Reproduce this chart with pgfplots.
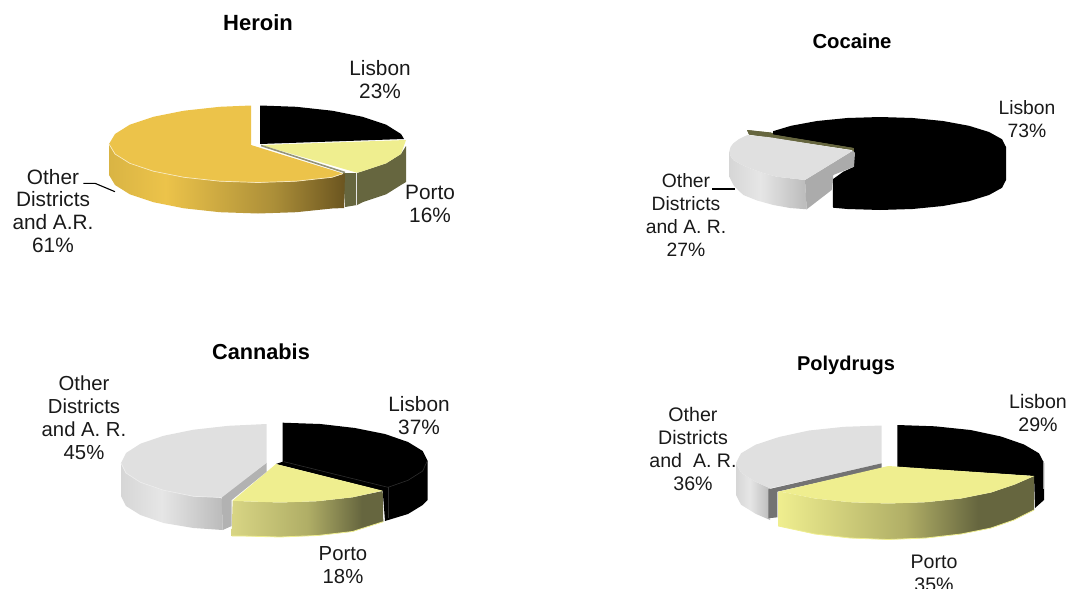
\documentclass[border=0pt]{standalone}
\usepackage{pgfplots}
\pgfplotsset{compat=1.18}
\usepackage{fontspec}
\setmainfont{Liberation Sans}
\definecolor{gold}{HTML}{ECC34A}
\definecolor{goldL}{HTML}{D9B444}
\definecolor{goldD}{HTML}{6B5520}
\definecolor{goldM}{HTML}{AB8E38}
\definecolor{pale}{HTML}{EFEE8F}
\definecolor{paleM}{HTML}{B0AE66}
\definecolor{paleL}{HTML}{D8D584}
\definecolor{olive}{HTML}{66663F}
\definecolor{gtop}{HTML}{E0E0E0}
\definecolor{gL}{HTML}{D6D6D6}
\definecolor{gM}{HTML}{E6E6E6}
\definecolor{gD}{HTML}{BBBBBB}
\pgfdeclarehorizontalshading{goldside}{100bp}{color(0bp)=(goldL); color(25bp)=(goldL); color(37bp)=(gold); color(60bp)=(goldM); color(75bp)=(goldD); color(100bp)=(goldD)}
\pgfdeclarehorizontalshading{paleside}{100bp}{color(0bp)=(paleL); color(25bp)=(paleL); color(50bp)=(paleM); color(68bp)=(olive); color(75bp)=(olive); color(100bp)=(olive)}
\pgfdeclarehorizontalshading{polyside}{100bp}{color(0bp)=(pale); color(25bp)=(pale); color(50bp)=(paleM); color(64bp)=(olive); color(75bp)=(olive); color(100bp)=(olive)}
\pgfdeclarehorizontalshading{greyside}{100bp}{color(0bp)=(gL); color(25bp)=(gL); color(45bp)=(gM); color(75bp)=(gD); color(100bp)=(gD)}
\newcommand{\lab}[5]{\node[align=center,inner sep=0pt,text=black!90,font=\fontsize{#3}{22.9}\selectfont] at (axis cs:#1,#2) {#5};}
\newcommand{\ttl}[4]{\node[inner sep=0pt,font=\bfseries\fontsize{#3}{24}\selectfont] at (axis cs:#1,#2) {#4};}
\begin{document}
\begin{tikzpicture}
\path[use as bounding box] (0,0) rectangle (1071pt,589pt);
\begin{axis}[at={(0,0)},anchor=south west,scale only axis,width=1071pt,height=589pt,
  xmin=0,xmax=1071,ymin=0,ymax=589,y dir=reverse,axis lines=none,clip=false]
% --- Heroin ---
\addplot[fill=black,draw=none] coordinates {(260,105.5)(296.3,106.8)(332,110.7)(362.6,116.8)(386.2,124.7)(401,134)(404,139)(260,144)} -- cycle;
\addplot[fill=olive,draw=none] coordinates {(357,173)(362.6,171.2)(386.2,163.3)(401,154)(406,146)(406,182)(401,185)(386.2,194.3)(362.6,202.2)(357,205)} -- cycle;
\addplot[fill=olive,draw=none] coordinates {(343,173)(357,173)(357,205)(345,207)} -- cycle;
\addplot[color=gM,line width=.7pt] coordinates {(356.5,173)(356.5,205)};
\addplot[fill=pale,draw=none] coordinates {(261,145)(406,140)(401,154)(386.2,163.3)(362.6,171.2)(357,172.7)} -- cycle;
\addplot[color=olive!70,line width=1.6pt] coordinates {(261,145.5)(345,172.5)};
\addplot[shading=goldside,draw=none] coordinates {(109,144)(115,154)(129.8,163.3)(153.4,171.2)(184,177.3)(219.7,181.2)(258,182.5)(296.3,181.2)(332,177.3)(345,173.5)(344,208)(332,208.5)(296.3,212.2)(258,213.5)(219.7,212.2)(184,208.3)(153.4,202.2)(129.8,194.3)(115,185)(109,175)} -- cycle;
\addplot[fill=gold,draw=none] coordinates {(251,105.5)(219.7,106.8)(184,110.7)(153.4,116.8)(129.8,124.7)(115,134)(109,144)(115,154)(129.8,163.3)(153.4,171.2)(184,177.3)(219.7,181.2)(258,182.5)(296.3,181.2)(332,177.3)(343,173.5)(251,145)} -- cycle;
\addplot[color=gold!35,line width=.7pt] coordinates {(109,144)(115,154)(129.8,163.3)(153.4,171.2)(184,177.3)(219.7,181.2)(258,182.5)(296.3,181.2)(332,177.3)(343,173.5)};
\addplot[color=black,line width=1.1pt] coordinates {(83.3,183.3)(95,183.3)(115,191.7)};
% --- Cocaine ---
\addplot[fill=olive,draw=none] coordinates {(747,130)(749,134.5)(852,150)(854,165)(855.5,165)(855.5,146)(773,133)} -- cycle;
\addplot[fill=black,draw=none] coordinates {(773,131.2)(791,125.8)(817,121)(847.4,118)(880,117)(912.6,118)(943,121)(969,125.8)(989,132)(1002,139.2)(1006,147)(1006,180)(1002,187.8)(989,195)(969,201.2)(943,206)(912.6,209)(880,210)(847.4,209)(833,207.7)(832.7,179.3)(843.3,171.7)(854,166.7)(854,148)(773,134.5)} -- cycle;
\addplot[fill=olive,draw=none] coordinates {(747,130)(749,134.5)(852,149.5)(853.5,148)(773,134.5)(771,132.5)} -- cycle;
\addplot[shading=greyside,draw=none] coordinates {(729.3,151.7)(730.5,156)(733.3,160)(741,164.5)(750,168.3)(763,173)(776.7,176.7)(805,180)(806.7,209.3)(790,208)(773.3,205)(757,200.5)(743.3,195)(734,186)(729.3,176.7)} -- cycle;
\addplot[fill=black!33,draw=none] coordinates {(805,180)(852.7,150.7)(855,153)(854,166.7)(833.3,175)(831.7,190)(806.7,209.3)} -- cycle;
\addplot[fill=gtop,draw=none] coordinates {(747.3,135)(770,137.3)(852.7,150.7)(805,180)(776.7,176.7)(763,173)(750,168.3)(741,164.5)(733.3,160)(730.5,156)(729.3,151.7)(730.5,147)(733.3,143.3)(739,139)} -- cycle;
\addplot[color=black,line width=1.1pt] coordinates {(712.3,189)(735,189)};
% --- Cannabis ---
\addplot[fill=black,draw=none] coordinates {(282.7,422.7)(320.3,424)(355,428)(385,434)(408,442)(422.7,451)(427.7,461)(427.7,500)(422.7,505)(408,514)(385,521)(382.7,491)(276,464)(282.7,461.7)} -- cycle;
\addplot[color=black!82,line width=.6pt] coordinates {(284,461.7)(388,487.3)(408,480.3)(422.7,471)(427.2,461)};
\addplot[color=black!82,line width=.6pt] coordinates {(388,487.3)(388,518)};
\addplot[shading=paleside,draw=none] coordinates {(232.7,500.7)(242.4,501.2)(280,502.5)(317.6,501.2)(352.5,497.3)(382.7,491)(383.3,521.7)(352.5,531.5)(317.6,535.5)(280,537)(242.4,536)(231.5,536)} -- cycle;
\addplot[color=pale,line width=.8pt] coordinates {(231.8,536)(242.4,536)(280,537)(317.6,535.5)(352.5,531.5)(383.3,521.7)};
\addplot[fill=pale,draw=none] coordinates {(276,464)(382.7,490.7)(352.5,497.3)(317.6,501.2)(280,502.5)(242.4,501.2)(232.7,500.7)} -- cycle;
\addplot[shading=greyside,draw=none] coordinates {(121,463)(126,473)(140.4,482.3)(163.5,490.2)(193.5,496.3)(221.7,497.5)(222.7,530)(193.5,528)(163.5,523)(140.4,515)(126,506)(121,496)} -- cycle;
\addplot[fill=black!30,draw=none] coordinates {(221.7,496)(266.7,462.7)(266.7,471.7)(231.7,500)(231.7,526)(222.7,530)} -- cycle;
\addplot[fill=gtop,draw=none] coordinates {(266.7,424)(228.4,425.8)(193.5,429.7)(163.5,435.8)(140.4,443.7)(126,453)(121,463)(126,473)(140.4,482.3)(163.5,490.2)(193.5,496.3)(221.7,497.5)(266.7,462.7)} -- cycle;
\addplot[color=gray!15,line width=.7pt] coordinates {(121,463)(126,473)(140.4,482.3)(163.5,490.2)(193.5,496.3)(221.7,497.5)};
% --- Polydrugs ---
\addplot[fill=black,draw=none] coordinates {(897.3,425)(935,426.3)(970.5,430)(1001,436.5)(1024,444.5)(1039,453.3)(1044,463)(1044,500)(1035,508)(1034,476)(897.3,467)} -- cycle;
\addplot[color=black!40,line width=.9pt] coordinates {(1043.8,461)(1043.8,489)};
\addplot[shading=greyside,draw=none] coordinates {(736,463)(741,472.7)(755.6,481.8)(770,488.3)(770,520)(755.6,513.8)(741,504.7)(736,495)} -- cycle;
\addplot[fill=gtop,draw=none] coordinates {(881.7,425.5)(844,426.8)(809,430.5)(779,437)(755.6,444.7)(741,453.3)(736,463)(741,472.7)(755.6,481.8)(770,488.3)(881.7,463.3)} -- cycle;
\addplot[fill=black!55,draw=none] coordinates {(768.3,489.3)(881.7,463.3)(881.7,468.3)(777.3,491.7)(777.3,517.3)(768.3,518.3)} -- cycle;
\addplot[shading=polyside,draw=none] coordinates {(778.3,491.7)(785,492.5)(815,498.5)(850,502.2)(888,503.5)(926,502.2)(961,498.5)(991,492.5)(1014,484.8)(1034,476)(1034,510)(1014,520)(991,528)(961,534)(926,538)(888,539.5)(850,538)(815,534)(778.3,526)} -- cycle;
\addplot[color=pale,line width=.8pt] coordinates {(778.3,526)(815,534)(850,538)(888,539.5)(926,538)(961,534)(991,528)(1014,520)(1034,510)};
\addplot[fill=pale,draw=none] coordinates {(888.3,466)(1034.3,476)(1014,484.8)(991,492.5)(961,498.5)(926,502.2)(888,503.5)(850,502.2)(815,498.5)(785,492.5)(778.3,491.7)} -- cycle;
% --- Text ---
\ttl{258}{23}{22}{Heroin}
\ttl{852}{41}{20.3}{Cocaine}
\ttl{261}{352}{21.7}{Cannabis}
\ttl{846}{365}{20}{Polydrugs}
\lab{380}{80}{20.8}{}{Lisbon\\23\%}
\lab{430}{204}{20.8}{}{Porto\\16\%}
\lab{53}{211}{20.8}{}{Other\\Districts\\and A.R.\\61\%}
\lab{1027}{119}{19.3}{}{Lisbon\\73\%}
\lab{686}{215}{19.3}{}{Other\\Districts\\and A. R.\\27\%}
\lab{419}{416}{20.8}{}{Lisbon\\37\%}
\lab{343}{565}{20.3}{}{Porto\\18\%}
\lab{84}{418}{20.3}{}{Other\\Districts\\and A. R.\\45\%}
\lab{1038}{413}{19.6}{}{Lisbon\\29\%}
\lab{934}{573}{19.6}{}{Porto\\35\%}
\lab{693}{449}{19.6}{}{Other\\Districts\\and\ \ A. R.\\36\%}
\end{axis}
\end{tikzpicture}
\end{document}
